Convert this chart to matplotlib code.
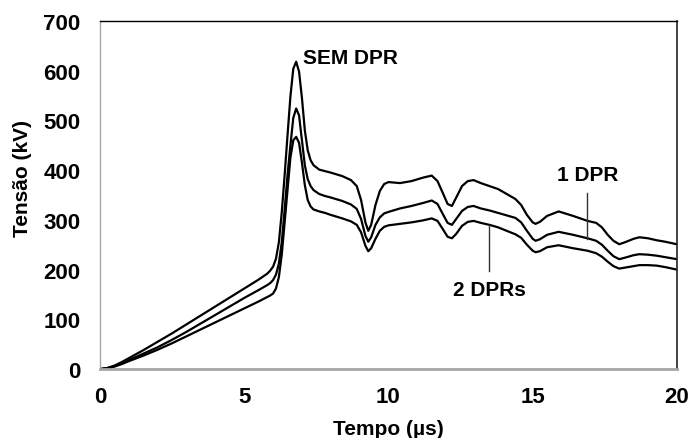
import matplotlib.pyplot as plt
import numpy as np

plt.rcParams['font.family'] = ['Liberation Sans', 'DejaVu Sans']
plt.rcParams['font.weight'] = 'bold'

# --- dados (tempo em µs, tensão em kV) ---
tempo = [0, 0.25, 0.5, 0.75, 1.0, 1.5, 2.0, 2.5, 3.0, 3.5,
         4.0, 4.5, 5.0, 5.5, 5.8, 5.9, 6.0, 6.1, 6.2, 6.3,
         6.4, 6.5, 6.6, 6.7, 6.8, 6.9, 7.0, 7.1, 7.2, 7.3,
         7.4, 7.6, 7.8, 8.0, 8.4, 8.7, 8.9, 9.05, 9.2, 9.3,
         9.4, 9.55, 9.7, 9.85, 10.0, 10.4, 10.8, 11.2, 11.5, 11.7,
         11.9, 12.05, 12.2, 12.35, 12.55, 12.75, 12.95, 13.2, 13.5, 13.8,
         14.1, 14.4, 14.6, 14.8, 15.0, 15.1, 15.25, 15.5, 15.9, 16.4,
         16.9, 17.2, 17.4, 17.6, 17.8, 18.0, 18.2, 18.5, 18.7, 19.0,
         19.3, 19.6, 20.0]

sem_dpr = [0, 2, 7, 14, 22, 38, 55, 72, 90, 108,
           126, 144, 162, 180, 192, 198, 206, 222, 255, 315,
           390, 470, 548, 604, 618, 598, 545, 480, 440, 420,
           410, 401, 398, 395, 388, 380, 368, 340, 295, 278,
           290, 330, 358, 372, 376, 374, 378, 385, 389, 378,
           352, 332, 328, 345, 368, 378, 380, 374, 368, 362,
           352, 342, 330, 310, 295, 292, 296, 308, 317, 308,
           298, 294, 285, 270, 258, 251, 255, 262, 265, 263,
           259, 256, 251]

um_dpr = [0, 2, 6, 11, 18, 31, 44, 59, 75, 92,
          109, 126, 143, 159, 169, 173, 179, 190, 212, 255,
          320, 390, 450, 505, 524, 510, 460, 410, 382, 368,
          360, 352, 348, 345, 338, 331, 322, 302, 268, 256,
          265, 290, 305, 313, 316, 323, 328, 334, 339, 332,
          310, 294, 290, 302, 318, 326, 328, 323, 319, 314,
          309, 304, 295, 278, 262, 258, 261, 270, 276, 270,
          263, 258, 250, 238, 227, 221, 224, 229, 231, 230,
          228, 225, 221]

dois_dpr = [0, 1, 5, 10, 16, 27, 39, 52, 66, 80,
            94, 108, 122, 136, 145, 148, 152, 162, 185, 230,
            295, 360, 425, 460, 467, 455, 415, 370, 340, 327,
            321, 317, 314, 310, 303, 297, 290, 275, 248, 237,
            243, 262, 278, 286, 289, 292, 295, 299, 303, 298,
            280, 266, 263, 272, 288, 296, 298, 294, 290, 285,
            278, 271, 264, 250, 238, 235, 237, 245, 249, 243,
            238, 233, 226, 216, 207, 202, 204, 207, 209, 209,
            208, 205, 200]

fig = plt.figure(figsize=(6.9, 4.39), dpi=100)
ax = fig.add_axes([0.145, 0.157, 0.836, 0.793])

for serie in (sem_dpr, um_dpr, dois_dpr):
    ax.plot(tempo, serie, color='black', lw=1.6, solid_joinstyle='round')

ax.set_xlim(0, 20)
ax.set_ylim(0, 700)
ax.set_xticks([0, 5, 10, 15, 20])
ax.set_yticks(np.arange(0, 701, 100))
ax.tick_params(axis='both', length=0, labelsize=16)
ax.tick_params(axis='y', pad=14)
ax.tick_params(axis='x', pad=12)

ax.spines['left'].set_color('#a6a6a6')
ax.spines['left'].set_linewidth(1.0)
ax.spines['bottom'].set_color('#a6a6a6')
ax.spines['bottom'].set_linewidth(2.0)
ax.spines['top'].set_color('black')
ax.spines['top'].set_linewidth(1.0)
ax.spines['right'].set_color('#222222')
ax.spines['right'].set_linewidth(1.2)

ax.set_xlabel('Tempo (µs)', fontsize=15, fontweight='bold')
ax.set_ylabel('Tensão (kV)', fontsize=15, fontweight='bold')
ax.xaxis.set_label_coords(0.5, -0.143)
ax.yaxis.set_label_coords(-0.118, 0.55)

# rótulos das curvas
ax.text(7.05, 627, 'SEM DPR', fontsize=15, fontweight='bold', va='center', ha='left')
ax.text(16.9, 392, '1 DPR', fontsize=15, fontweight='bold', va='center', ha='center')
ax.plot([16.87, 16.87], [262, 355], color='#333333', lw=1.0)
ax.text(13.5, 161, '2 DPRs', fontsize=15, fontweight='bold', va='center', ha='center')
ax.plot([13.48, 13.48], [198, 290], color='#333333', lw=1.0)

fig.savefig('out.png', dpi=100)
